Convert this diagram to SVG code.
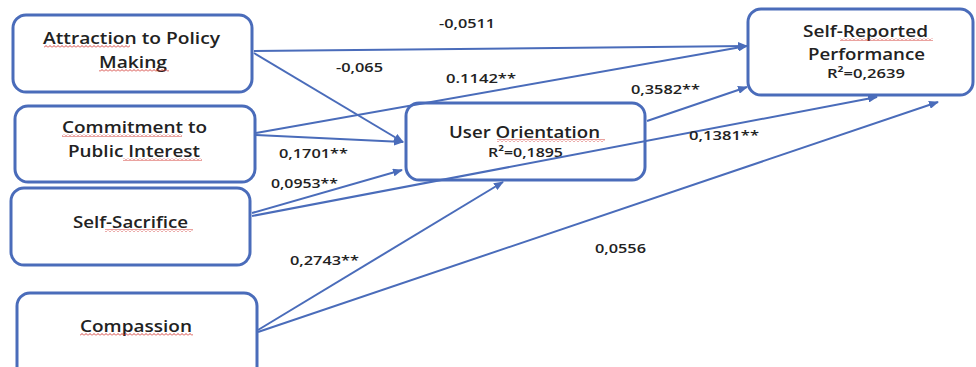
<svg xmlns="http://www.w3.org/2000/svg" width="976" height="367" viewBox="0 0 976 367">
  <style>
    .box { fill: #ffffff; stroke: #4a6cba; stroke-width: 3; }
    .conn { stroke: #4a6cba; stroke-width: 2; fill: none; }
    .arr { marker-end: url(#head); }
    .name { font-family: "Open Sans", "Liberation Sans", sans-serif; font-weight: 600; font-size: 15.5px; fill: #222; text-anchor: middle; }
    .r2 { font-family: "Open Sans", "Liberation Sans", sans-serif; font-weight: 600; font-size: 13px; fill: #222; text-anchor: middle; }
    .coef { font-family: "Open Sans", "Liberation Sans", sans-serif; font-weight: 600; font-size: 13px; fill: #222; text-anchor: middle; }
    .spell { fill: url(#squiggle); }
  </style>
  <defs>
    <marker id="head" viewBox="0 0 10 8" refX="9" refY="4" markerWidth="10" markerHeight="8" markerUnits="userSpaceOnUse" orient="auto">
      <path d="M0,0 L10,4 L0,8 Z" fill="#4a6cba"/>
    </marker>
    <pattern id="squiggle" x="0" y="0" width="4" height="3" patternUnits="userSpaceOnUse">
      <path d="M0,2.5 L2,0.5 L4,2.5" fill="none" stroke="#d0302a" stroke-width="0.9"/>
    </pattern>
  </defs>

  <rect width="976" height="367" fill="#ffffff"/>

  <g id="attraction">
    <rect class="box" x="13" y="15" width="239" height="77" rx="13"/>
    <text class="name" x="131.5" y="44" textLength="177" lengthAdjust="spacingAndGlyphs">Attraction to Policy</text>
    <text class="name" x="133" y="68" textLength="68" lengthAdjust="spacingAndGlyphs">Making</text>
    <rect class="spell" x="44" y="45" width="86" height="3"/>
    <rect class="spell" x="99" y="69" width="70" height="3"/>
  </g>

  <g id="commitment">
    <rect class="box" x="15" y="106" width="240" height="76" rx="13"/>
    <text class="name" x="134.5" y="133" textLength="145" lengthAdjust="spacingAndGlyphs">Commitment to</text>
    <text class="name" x="134" y="157" textLength="132" lengthAdjust="spacingAndGlyphs">Public Interest</text>
    <rect class="spell" x="62" y="134" width="120" height="3"/>
    <rect class="spell" x="123" y="158" width="79" height="3"/>
  </g>

  <g id="self-sacrifice">
    <rect class="box" x="11" y="188" width="239" height="77" rx="13"/>
    <text class="name" x="130.5" y="228" textLength="115" lengthAdjust="spacingAndGlyphs">Self-Sacrifice</text>
    <rect class="spell" x="105" y="229" width="88" height="3"/>
  </g>

  <g id="compassion">
    <rect class="box" x="17" y="293" width="240" height="90" rx="13"/>
    <text class="name" x="136" y="332" textLength="112" lengthAdjust="spacingAndGlyphs">Compassion</text>
    <rect class="spell" x="80" y="333" width="113" height="3"/>
  </g>

  <g id="user-orientation">
    <rect class="box" x="406" y="103" width="239" height="77" rx="13"/>
    <text class="name" x="524.5" y="138" textLength="151" lengthAdjust="spacingAndGlyphs">User Orientation</text>
    <text class="r2" x="525.5" y="157" textLength="75" lengthAdjust="spacingAndGlyphs">R²=0,1895</text>
    <rect class="spell" x="497" y="139" width="108" height="3"/>
  </g>

  <g id="self-reported-performance">
    <rect class="box" x="748" y="9" width="225" height="86" rx="13"/>
    <text class="name" x="865.5" y="37" textLength="125" lengthAdjust="spacingAndGlyphs">Self-Reported</text>
    <text class="name" x="866.5" y="60" textLength="117" lengthAdjust="spacingAndGlyphs">Performance</text>
    <text class="r2" x="866" y="78" textLength="78" lengthAdjust="spacingAndGlyphs">R²=0,2639</text>
    <rect class="spell" x="840" y="38" width="93" height="3"/>
  </g>

  <!-- paths between constructs, drawn over the boxes -->
  <g id="connectors">
    <line class="conn arr" x1="254" y1="51" x2="747" y2="46"/>
    <line class="conn arr" x1="254" y1="53" x2="403" y2="142"/>
    <line class="conn arr" x1="256" y1="133" x2="747" y2="46"/>
    <line class="conn arr" x1="256" y1="135" x2="403" y2="142"/>
    <line class="conn arr" x1="252" y1="213" x2="402" y2="170"/>
    <line class="conn arr" x1="252" y1="216" x2="877" y2="97"/>
    <line class="conn arr" x1="258" y1="330" x2="503" y2="182"/>
    <line class="conn arr" x1="258" y1="332" x2="938" y2="102"/>
    <line class="conn arr" x1="647" y1="121" x2="747" y2="87"/>
  </g>

  <g id="coefficients">
    <text class="coef" x="467" y="28" textLength="56" lengthAdjust="spacingAndGlyphs">-0,0511</text>
    <text class="coef" x="359.5" y="72" textLength="47" lengthAdjust="spacingAndGlyphs">-0,065</text>
    <text class="coef" x="481" y="83" textLength="70" lengthAdjust="spacingAndGlyphs">0.1142**</text>
    <text class="coef" x="665.5" y="94" textLength="69" lengthAdjust="spacingAndGlyphs">0,3582**</text>
    <text class="coef" x="724" y="140" textLength="70" lengthAdjust="spacingAndGlyphs">0,1381**</text>
    <text class="coef" x="313.5" y="158" textLength="69" lengthAdjust="spacingAndGlyphs">0,1701**</text>
    <text class="coef" x="304.5" y="188" textLength="67" lengthAdjust="spacingAndGlyphs">0,0953**</text>
    <text class="coef" x="324.5" y="265" textLength="69" lengthAdjust="spacingAndGlyphs">0,2743**</text>
    <text class="coef" x="620.5" y="253" textLength="51" lengthAdjust="spacingAndGlyphs">0,0556</text>
  </g>
</svg>
